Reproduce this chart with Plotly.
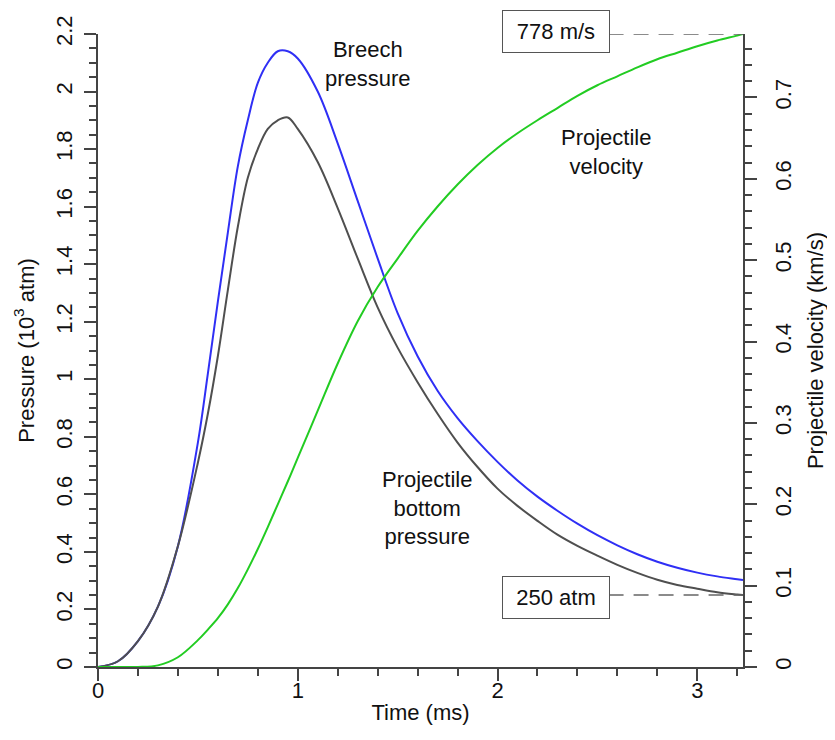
import plotly.graph_objects as go

# ---- data ----
t_grid = [0, 0.1, 0.2, 0.3, 0.4, 0.5, 0.55, 0.6, 0.65, 0.7, 0.75, 0.8, 0.85, 0.9, 0.95, 1.0,
          1.1, 1.2, 1.3, 1.4, 1.5, 1.6, 1.7, 1.8, 1.9, 2.0, 2.1, 2.2, 2.3, 2.4, 2.5, 2.6, 2.7,
          2.8, 2.9, 3.0, 3.1, 3.2, 3.229]

p_breech = [0, 0.02, 0.09, 0.21, 0.42, 0.78, 1.02, 1.27, 1.51, 1.74, 1.90, 2.03, 2.10, 2.14,
            2.14, 2.115, 2.0, 1.82, 1.62, 1.42, 1.23, 1.08, 0.96, 0.865, 0.785, 0.713, 0.648,
            0.592, 0.543, 0.498, 0.458, 0.423, 0.392, 0.366, 0.345, 0.328, 0.315, 0.305, 0.302]

p_bottom = [0, 0.02, 0.09, 0.21, 0.42, 0.71, 0.88, 1.08, 1.31, 1.53, 1.70, 1.80, 1.87, 1.90,
            1.91, 1.87, 1.755, 1.595, 1.42, 1.25, 1.11, 0.99, 0.88, 0.78, 0.695, 0.62, 0.56,
            0.508, 0.46, 0.421, 0.387, 0.355, 0.327, 0.303, 0.285, 0.272, 0.26, 0.252, 0.25]

v_vel = [0, 0, 0, 0.002, 0.012, 0.033, 0.046, 0.06, 0.077, 0.097, 0.12, 0.145, 0.172, 0.2,
         0.228, 0.257, 0.315, 0.373, 0.425, 0.467, 0.502, 0.536, 0.566, 0.593, 0.617, 0.638,
         0.656, 0.672, 0.687, 0.702, 0.715, 0.726, 0.737, 0.747, 0.755, 0.763, 0.77, 0.776,
         0.778]

x_ticks = [0, 1, 2, 3]
left_ticks = [0, 0.2, 0.4, 0.6, 0.8, 1, 1.2, 1.4, 1.6, 1.8, 2, 2.2]
right_ticks = [0, 0.1, 0.2, 0.3, 0.4, 0.5, 0.6, 0.7]

T_END = 3.229
V_MAX = 0.778
P_MUZZLE = 0.25

FONT = "Liberation Sans, Arial, sans-serif"
AX = "#444444"
TXT = "#111111"

fig = go.Figure()
fig.add_trace(go.Scatter(x=t_grid, y=p_breech, mode="lines",
                         line=dict(color="#2f2ff5", width=2, shape="spline", smoothing=1.0),
                         showlegend=False, hoverinfo="skip"))
fig.add_trace(go.Scatter(x=t_grid, y=p_bottom, mode="lines",
                         line=dict(color="#4f4f4f", width=2, shape="spline", smoothing=1.0),
                         showlegend=False, hoverinfo="skip"))
fig.add_trace(go.Scatter(x=t_grid, y=v_vel, mode="lines", yaxis="y2",
                         line=dict(color="#22cc22", width=2, shape="spline", smoothing=1.0),
                         showlegend=False, hoverinfo="skip"))

axis_common = dict(showline=True, linecolor=AX, linewidth=2, ticks="outside",
                   ticklen=12, tickwidth=1.5, tickcolor=AX, showgrid=False, zeroline=False,
                   automargin=False,
                   tickfont=dict(family=FONT, size=22, color=TXT))

# the page body has an 8px margin, so the figure is sized to fit inside the window
fig.update_layout(
    width=827, height=732,
    margin=dict(l=90, r=92, t=26, b=73),
    paper_bgcolor="white", plot_bgcolor="white",
    font=dict(family=FONT, size=22, color=TXT),
    xaxis=dict(range=[0, T_END], tickvals=x_ticks, ticktext=[str(v) for v in x_ticks],
               ticklabelstandoff=-9,
               minor=dict(dtick=0.2, ticklen=7, tickwidth=1.5, tickcolor=AX, ticks="outside"),
               title=dict(text="Time (ms)", font=dict(family=FONT, size=22, color=TXT), standoff=2),
               **axis_common),
    yaxis=dict(range=[0, 2.2], tickvals=left_ticks, ticktext=[f"{v:g}" for v in left_ticks],
               tickangle=-90, ticklabelstandoff=3,
               minor=dict(dtick=0.05, ticklen=7, tickwidth=1.5, tickcolor=AX, ticks="outside"),
               title=dict(text="Pressure (10<sup>3</sup> atm)", font=dict(family=FONT, size=22, color=TXT), standoff=12),
               **axis_common),
    yaxis2=dict(range=[0, V_MAX], overlaying="y", side="right", anchor="x",
                tickvals=right_ticks, ticktext=[f"{v:g}" for v in right_ticks], tickangle=-90,
                ticklabelstandoff=8,
                minor=dict(dtick=0.02, ticklen=7, tickwidth=1.5, tickcolor=AX, ticks="outside"),
                title=dict(text="Projectile velocity (km/s)", font=dict(family=FONT, size=22, color=TXT), standoff=12),
                **axis_common),
)

# text labels
fig.add_annotation(x=1.35, y=2.097, xref="x", yref="y", text="Breech<br>pressure",
                   showarrow=False, font=dict(family=FONT, size=22, color=TXT))
fig.add_annotation(x=2.541, y=1.79, xref="x", yref="y", text="Projectile<br>velocity",
                   showarrow=False, font=dict(family=FONT, size=22, color=TXT))
fig.add_annotation(x=1.647, y=0.553, xref="x", yref="y", text="Projectile<br>bottom<br>pressure",
                   showarrow=False, font=dict(family=FONT, size=22, color=TXT))

# boxed value labels with dashed leaders
BOX_X = 2.295
BOX_R = 2.556
fig.add_annotation(x=BOX_X, y=V_MAX, xref="x", yref="y2", text="778 m/s", showarrow=False,
                   yshift=3,
                   font=dict(family=FONT, size=22, color=TXT), bgcolor="white",
                   bordercolor="#555555", borderwidth=1, borderpad=4, width=98, height=33)
fig.add_annotation(x=BOX_X, y=P_MUZZLE, xref="x", yref="y", text="250 atm", showarrow=False,
                   yshift=-2,
                   font=dict(family=FONT, size=22, color=TXT), bgcolor="white",
                   bordercolor="#555555", borderwidth=1, borderpad=4, width=98, height=33)
fig.add_shape(type="line", xref="x", yref="y2", x0=BOX_R, x1=T_END, y0=V_MAX, y1=V_MAX,
              line=dict(color="#666666", width=1.5, dash="15px,10px"))
fig.add_shape(type="line", xref="x", yref="y", x0=BOX_R, x1=T_END, y0=P_MUZZLE, y1=P_MUZZLE,
              line=dict(color="#666666", width=1.5, dash="15px,10px"))

fig.write_html("out.html")
